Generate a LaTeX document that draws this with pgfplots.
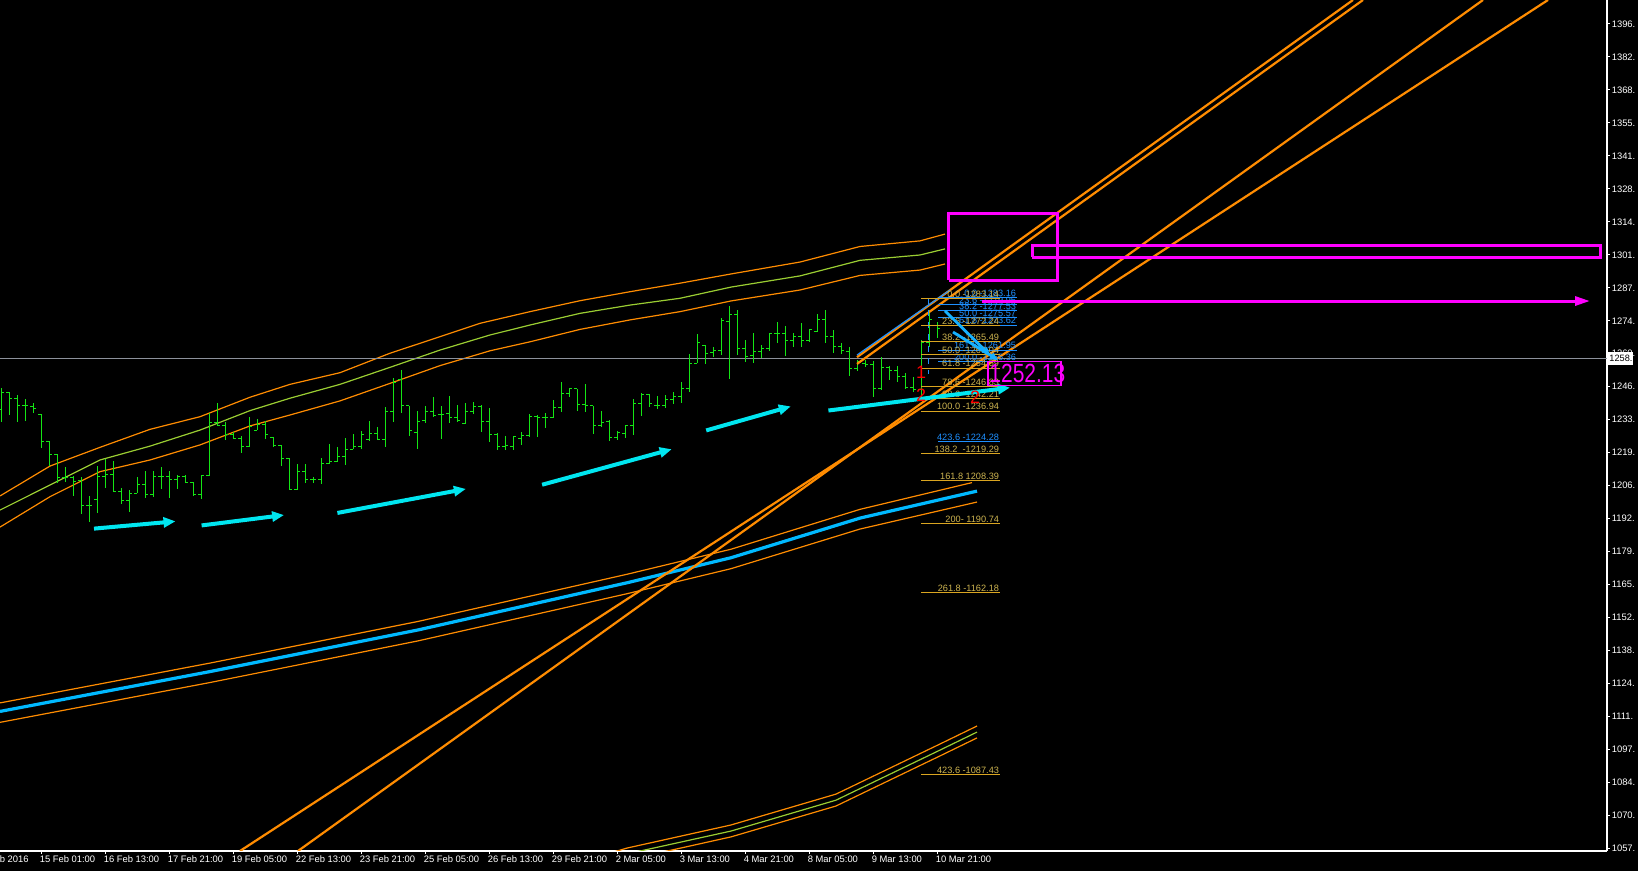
\documentclass[border=0pt]{standalone}
\usepackage{pgfplots}
\pgfplotsset{compat=1.18}
\usepackage{pgfplotstable}
\usepackage{fontspec}
\setmainfont{Liberation Sans}
\usetikzlibrary{arrows.meta}

\definecolor{barg}{RGB}{20,230,20}
\definecolor{bandor}{RGB}{255,140,0}
\definecolor{bandgr}{RGB}{154,205,50}
\definecolor{mablue}{RGB}{0,185,255}
\definecolor{arrcyan}{RGB}{0,230,240}
\definecolor{mag}{RGB}{255,0,255}
\definecolor{fibgold}{RGB}{218,165,32}
\definecolor{fibtxt}{RGB}{205,180,80}
\definecolor{fibblue}{RGB}{30,144,255}
\definecolor{pricegrey}{RGB}{140,145,155}

\pgfdeclareplotmark{ohlcl}{\pgfpathmoveto{\pgfqpoint{-1.4pt}{0pt}}\pgfpathlineto{\pgfqpoint{0pt}{0pt}}\pgfusepathqstroke}
\pgfdeclareplotmark{ohlcr}{\pgfpathmoveto{\pgfqpoint{0pt}{0pt}}\pgfpathlineto{\pgfqpoint{1.4pt}{0pt}}\pgfusepathqstroke}

\pgfplotstableread{
x o h l c
1 1237.6 1246.3 1232.5 1244.6
9 1244.6 1244.6 1235.3 1242.2
17 1242.2 1243.5 1232.5 1239.4
25 1239.4 1241.7 1232.9 1239.1
33 1238.7 1240.1 1236.2 1238.0
41 1235.7 1235.7 1221.8 1224.6
49 1224.6 1224.6 1214.3 1219.1
57 1219.1 1219.1 1207.4 1209.7
65 1209.7 1214.0 1207.9 1209.7
73 1209.7 1210.2 1202.0 1207.9
81 1208.3 1209.7 1194.6 1197.9
89 1197.9 1202.0 1191.3 1197.9
97 1200.6 1214.3 1195.0 1210.2
105 1210.2 1217.1 1205.1 1211.0
113 1211.0 1216.5 1203.7 1203.7
121 1203.7 1205.1 1198.6 1200.3
129 1200.3 1204.4 1195.5 1203.1
137 1203.1 1209.9 1203.1 1206.9
145 1206.9 1212.4 1201.0 1202.7
153 1202.7 1212.4 1201.7 1210.2
161 1210.2 1213.8 1205.0 1209.9
169 1209.9 1212.4 1201.3 1208.6
177 1208.6 1210.6 1205.0 1210.2
185 1210.2 1210.6 1207.2 1207.6
193 1207.6 1207.6 1202.3 1202.5
201 1202.5 1210.6 1200.6 1210.6
209 1210.3 1236.2 1210.3 1232.1
217 1232.1 1240.1 1230.8 1231.1
225 1230.9 1232.5 1225.0 1227.1
233 1227.1 1228.4 1225.3 1225.7
241 1225.7 1226.7 1219.8 1222.5
249 1222.5 1234.6 1222.1 1230.5
257 1229.1 1233.5 1229.1 1231.5
265 1231.5 1232.9 1225.5 1227.4
273 1226.0 1226.4 1222.0 1222.7
281 1222.8 1222.8 1214.4 1217.5
289 1217.5 1217.5 1204.4 1204.7
297 1204.7 1215.1 1204.4 1212.1
305 1212.1 1215.1 1207.4 1208.8
313 1208.8 1209.8 1207.2 1208.8
321 1208.6 1217.5 1206.9 1215.4
329 1215.4 1223.4 1215.1 1216.0
337 1216.1 1222.3 1215.8 1218.4
345 1218.4 1225.7 1214.7 1221.3
353 1221.3 1227.5 1221.2 1222.5
361 1222.5 1228.7 1221.2 1227.4
369 1225.4 1232.8 1224.7 1227.5
377 1227.5 1230.2 1225.3 1225.4
385 1225.4 1238.5 1222.0 1236.6
393 1236.6 1250.4 1232.5 1248.7
401 1249.7 1253.8 1236.2 1239.4
409 1239.0 1239.0 1226.8 1229.1
417 1228.2 1236.9 1221.2 1232.8
425 1232.9 1239.0 1232.1 1236.9
433 1236.9 1242.6 1234.3 1235.0
441 1235.3 1239.0 1225.5 1235.3
449 1236.0 1243.1 1232.1 1234.3
457 1234.3 1239.4 1232.5 1233.2
465 1231.9 1240.4 1231.5 1236.9
473 1236.9 1240.5 1235.6 1238.9
481 1238.9 1239.4 1228.4 1232.8
489 1232.8 1238.3 1224.3 1227.1
497 1227.1 1227.8 1220.9 1222.3
505 1222.3 1226.7 1220.9 1222.7
513 1222.5 1226.7 1220.9 1226.4
521 1225.7 1228.4 1223.0 1226.7
529 1226.7 1235.6 1226.4 1234.6
537 1234.6 1235.3 1226.4 1234.2
545 1234.1 1236.0 1230.1 1234.1
553 1234.1 1241.5 1233.9 1238.3
561 1238.3 1248.7 1236.6 1244.2
569 1244.2 1246.3 1242.8 1246.0
577 1246.0 1246.0 1237.1 1239.7
585 1239.7 1247.9 1236.4 1239.0
593 1239.0 1239.0 1227.4 1231.1
601 1231.1 1236.9 1230.5 1232.3
609 1232.5 1233.2 1224.7 1226.0
617 1226.0 1228.7 1225.0 1228.0
625 1227.8 1231.2 1225.7 1230.8
633 1230.8 1241.9 1227.1 1240.1
641 1240.1 1244.2 1235.0 1243.8
649 1243.8 1243.9 1238.7 1240.1
657 1239.4 1243.2 1237.6 1239.1
665 1239.3 1243.5 1238.0 1241.5
673 1241.5 1244.6 1239.7 1242.8
681 1242.8 1248.7 1240.1 1246.3
689 1246.3 1260.4 1244.9 1256.6
697 1256.6 1268.6 1256.6 1265.0
705 1263.7 1264.0 1256.1 1260.7
713 1260.9 1263.1 1259.3 1262.0
721 1261.9 1275.1 1259.8 1274.0
729 1273.7 1280.1 1250.1 1276.7
737 1276.7 1278.5 1259.9 1262.7
745 1262.7 1266.1 1257.2 1259.3
753 1259.7 1269.1 1256.8 1261.3
761 1261.3 1264.0 1258.6 1262.7
769 1262.7 1269.1 1261.7 1268.9
777 1268.9 1273.4 1264.8 1268.9
785 1268.9 1271.9 1259.6 1266.1
793 1266.1 1269.1 1263.4 1267.5
801 1267.5 1273.0 1263.4 1266.1
809 1266.1 1270.5 1265.4 1270.3
817 1269.8 1276.8 1269.5 1274.4
825 1274.4 1278.5 1265.0 1267.5
833 1267.5 1270.3 1260.9 1263.4
841 1263.4 1264.8 1260.4 1262.0
849 1261.3 1263.4 1251.5 1254.5
857 1254.5 1257.9 1253.5 1257.2
865 1256.6 1257.9 1254.9 1255.9
873 1255.9 1257.5 1242.8 1246.3
881 1246.3 1259.0 1245.6 1254.9
889 1254.9 1255.4 1249.7 1253.5
897 1253.5 1255.4 1249.0 1251.0
905 1251.0 1252.4 1245.9 1246.7
913 1246.7 1250.8 1244.9 1245.9
921 1245.9 1266.1 1242.8 1265.3
929 1265.3 1278.5 1263.4 1274.4
937 1272.0 1273.7 1266.9 1271.0
}\bars

\newcommand{\fibline}[3][fibgold]{\addplot[#1, line width=0.5pt] coordinates {(921,#2) (1000,#2)};
  \node[text=fibtxt, anchor=south east, inner sep=0.3pt] at (axis cs:1000,#2) {#3};}
\newcommand{\bfibline}[3]{\addplot[fibblue, line width=0.5pt] coordinates {(938,#1) (1017,#1)};
  \node[text=fibblue, anchor=south east, inner sep=0.3pt] at (axis cs:1017,#1) {#2#3};}

\begin{document}
\begin{tikzpicture}[font=\fontsize{4.6}{5.2}\selectfont]
\fill[black] (0,-10pt) rectangle (819pt,425.5pt);
\begin{axis}[
  at={(0,0)}, anchor=south west,
  scale only axis, width=803.5pt, height=425.5pt,
  xmin=0, xmax=1607, ymin=1056.0, ymax=1405.97,
  clip mode=individual,
  axis x line*=bottom, axis y line*=right,
  axis line style={white, line width=0.6pt, -},
  tick style={white, line width=0.5pt},
  major tick length=1.6pt, tick align=outside,
  xtick={41,105,169,233,297,361,425,489,553,617,681,745,809,873,937},
  xticklabels={15 Feb 01:00,16 Feb 13:00,17 Feb 21:00,19 Feb 05:00,22 Feb 13:00,23 Feb 21:00,25 Feb 05:00,26 Feb 13:00,29 Feb 21:00,2 Mar 05:00,3 Mar 13:00,4 Mar 21:00,8 Mar 05:00,9 Mar 13:00,10 Mar 21:00},
  ytick={1057.10,1070.66,1084.22,1097.78,1111.34,1124.90,1138.46,1152.02,1165.58,1179.14,1192.70,1206.26,1219.82,1233.38,1246.94,1260.50,1274.06,1287.62,1301.18,1314.74,1328.30,1341.86,1355.42,1368.98,1382.54,1396.10},
  yticklabels={1057.,1070.,1084.,1097.,1111.,1124.,1138.,1152.,1165.,1179.,1192.,1206.,1219.,1233.,1246.,1260.,1274.,1287.,1301.,1314.,1328.,1341.,1355.,1368.,1382.,1396.},
  xticklabel style={text=white, anchor=north west, inner sep=0pt, xshift=-0.8pt, yshift=-0.6pt},
  yticklabel style={text=white, anchor=west, inner sep=0pt, xshift=0.6pt},
  every tick label/.append style={font=\fontsize{4.7}{5.2}\selectfont},
]
% upper envelope bands
\addplot[bandor, line width=0.6pt] coordinates {(0,1202.0) (50,1214.3) (100,1222.0) (150,1229.4) (200,1234.6) (250,1242.6) (290,1247.9) (340,1252.7) (390,1260.7) (440,1267.5) (480,1273.0) (530,1277.8) (580,1282.3) (630,1286.0) (680,1289.5) (731,1293.3) (800,1298.2) (860,1304.6) (920,1306.9) (945,1309.7)};
\addplot[bandgr, line width=0.6pt] coordinates {(0,1196.2) (50,1206.5) (100,1216.8) (150,1222.5) (200,1229.1) (250,1237.1) (290,1242.2) (340,1247.9) (390,1254.9) (440,1262.0) (490,1268.2) (530,1272.3) (580,1277.1) (630,1280.5) (680,1283.3) (731,1287.9) (800,1292.5) (860,1298.9) (920,1301.1) (945,1303.6)};
\addplot[bandor, line width=0.6pt] coordinates {(0,1189.2) (50,1201.7) (100,1212.0) (150,1216.8) (200,1223.0) (250,1230.8) (290,1235.3) (340,1241.1) (390,1248.3) (440,1255.6) (490,1261.7) (530,1265.4) (580,1270.5) (630,1274.4) (680,1277.8) (731,1282.2) (800,1286.7) (860,1292.7) (920,1294.9) (945,1297.4)};
% long MA with bands
\addplot[bandor, line width=0.6pt] coordinates {(0,1116.9) (209,1133.2) (418,1150.4) (627,1169.8) (731,1180.1) (860,1196.5) (972,1207.5)};
\addplot[bandor, line width=0.6pt] coordinates {(0,1108.9) (209,1125.2) (418,1142.4) (627,1161.8) (731,1172.1) (860,1188.4) (977,1199.5)};
\addplot[mablue, line width=1.6pt] coordinates {(0,1113.4) (209,1129.7) (418,1146.9) (627,1166.3) (731,1176.6) (860,1192.9) (977,1204.0)};
% lower envelope bands
\addplot[bandor, line width=0.6pt] coordinates {(600,1053.9) (627,1057.2) (731,1066.7) (836,1079.4) (940,1100.0) (977,1107.4)};
\addplot[bandgr, line width=0.6pt] coordinates {(610,1053.1) (627,1054.8) (731,1064.2) (836,1076.9) (940,1097.5) (977,1104.9)};
\addplot[bandor, line width=0.6pt] coordinates {(627,1052.3) (731,1061.8) (836,1074.5) (940,1095.1) (977,1102.5)};
% current price line
\addplot[pricegrey, line width=0.6pt] coordinates {(0,1258.61) (1607,1258.61)};
% OHLC bars
\addplot[barg, only marks, mark=ohlcr, mark options={barg, line width=0.5pt},
  error bars/.cd, y dir=both, y explicit, error mark=none, error bar style={barg, line width=0.5pt}]
  table[x=x, y=c, y error plus expr=\thisrow{h}-\thisrow{c}, y error minus expr=\thisrow{c}-\thisrow{l}] {\bars};
\addplot[barg, only marks, mark=ohlcl, mark options={barg, line width=0.5pt}] table[x=x, y=o] {\bars};
% orange trend lines
\addplot[bandor, line width=1.1pt] coordinates {(240,1056.0) (1548,1405.97)};
\addplot[bandor, line width=1.1pt] coordinates {(298,1056.0) (1483,1405.97)};
\addplot[bandor, line width=1.1pt] coordinates {(857,1259.1) (1353,1405.97)};
\addplot[bandor, line width=1.1pt] coordinates {(857,1256.3) (1363,1405.97)};
\addplot[fibblue, line width=0.6pt] coordinates {(857,1259.96) (950,1286.7)};
\addplot[fibblue, line width=0.5pt, dashed] coordinates {(928,1283.5) (928,1252.0)};
% fibonacci levels
\bfibline{1283.5}{0.0 -128}{3.16}
\bfibline{1280.6}{23.6 -127}{9.95}
\bfibline{1278.1}{38.2 -127}{7.53}
\bfibline{1275.2}{50.0 -127}{5.57}
\bfibline{1272.3}{61.8 -127}{3.62}
\bfibline{1262.0}{161.8 -12}{61.95}
\bfibline{1257.1}{200.0 -12}{55.36}
\fibline{1283.14}{0.0 -1283.14}
\fibline{1272.24}{23.6 -1272.24}
\fibline{1265.49}{38.2 -1265.49}
\fibline{1260.04}{50.0 -1260.04}
\fibline{1254.59}{61.8 -1254.59}
\fibline{1246.83}{78.6 -1246.83}
\fibline{1242.21}{88.6 -1242.21}
\fibline{1236.94}{100.0 -1236.94}
\addplot[fibblue, line width=0.5pt] coordinates {(938,1224.28) (1000,1224.28)};
\node[text=fibblue, anchor=south east, inner sep=0.3pt] at (axis cs:1000,1224.28) {423.6 -1224.28};
\fibline{1219.29}{138.2 \ -1219.29}
\fibline{1208.39}{161.8 1208.39}
\fibline{1190.74}{200- 1190.74}
\fibline{1162.18}{261.8 -1162.18}
\fibline{1087.43}{423.6 -1087.43}
% blue fan arrows
\addplot[fibblue!70!cyan, line width=1.4pt, -{Triangle[length=4pt,width=3.5pt]}] coordinates {(945,1278.1) (990,1259.9)};
\addplot[fibblue!70!cyan, line width=1.4pt, -{Triangle[length=4pt,width=3.5pt]}] coordinates {(953,1269.4) (998,1257.9)};
% cyan arrows
\addplot[arrcyan, line width=2pt, -{Triangle[length=6pt,width=5pt]}] coordinates {(94,1188.57) (175.5,1191.57)};
\addplot[arrcyan, line width=2pt, -{Triangle[length=6pt,width=5pt]}] coordinates {(201.6,1189.88) (284.1,1194.16)};
\addplot[arrcyan, line width=2pt, -{Triangle[length=6pt,width=5pt]}] coordinates {(337.4,1195.02) (465.9,1204.9)};
\addplot[arrcyan, line width=2pt, -{Triangle[length=6pt,width=5pt]}] coordinates {(542.1,1206.62) (671.7,1221.22)};
\addplot[arrcyan, line width=2pt, -{Triangle[length=6pt,width=5pt]}] coordinates {(706.2,1228.96) (790.8,1238.83)};
\addplot[arrcyan, line width=2pt, -{Triangle[length=6pt,width=5pt]}] coordinates {(828.4,1237.14) (1010,1246.56)};
% red markers
\node[text=red, font=\fontsize{9}{9}\selectfont, inner sep=0pt] at (axis cs:921,1253.0) {1};
\node[text=red, font=\fontsize{9}{9}\selectfont, inner sep=0pt] at (axis cs:921,1243.5) {2};
\node[text=red, font=\fontsize{9}{9}\selectfont, inner sep=0pt] at (axis cs:975,1242.7) {2};
% magenta objects
\addplot[mag, line width=1.5pt] coordinates {(948.5,1290.81) (1057,1290.81) (1057,1317.96) (948.5,1317.96) (948.5,1290.81)};
\addplot[mag, line width=1.5pt] coordinates {(1032,1300.27) (1600,1300.27) (1600,1305.0) (1032,1305.0) (1032,1300.27)};
\addplot[mag, line width=1.5pt, -{Triangle[length=7.5pt,width=4.5pt]}] coordinates {(982,1282.17) (1590,1282.17)};
\addplot[mag, line width=0.6pt] coordinates {(988,1247.42) (1061,1247.42) (1061,1257.33) (988,1257.33) (988,1247.42)};
\node[text=mag, anchor=west, inner sep=0pt, font=\fontsize{10.5}{11}\selectfont] at (axis cs:989,1252.2) {\scalebox{1}[1.25]{1252.13}};
% current price box and partial date label
\node[fill=white, text=black, anchor=west, inner sep=0.5pt, minimum height=6.3pt] at (axis cs:1608,1258.61) {1258.};
\node[text=white, anchor=north east, inner sep=0pt, yshift=-2.2pt, font=\fontsize{4.7}{5.2}\selectfont] at (axis cs:29,1056.0) {12 Feb 2016};
\end{axis}
\pgfresetboundingbox
\useasboundingbox (0,-10pt) rectangle (819pt,425.5pt);
\end{tikzpicture}
\end{document}
